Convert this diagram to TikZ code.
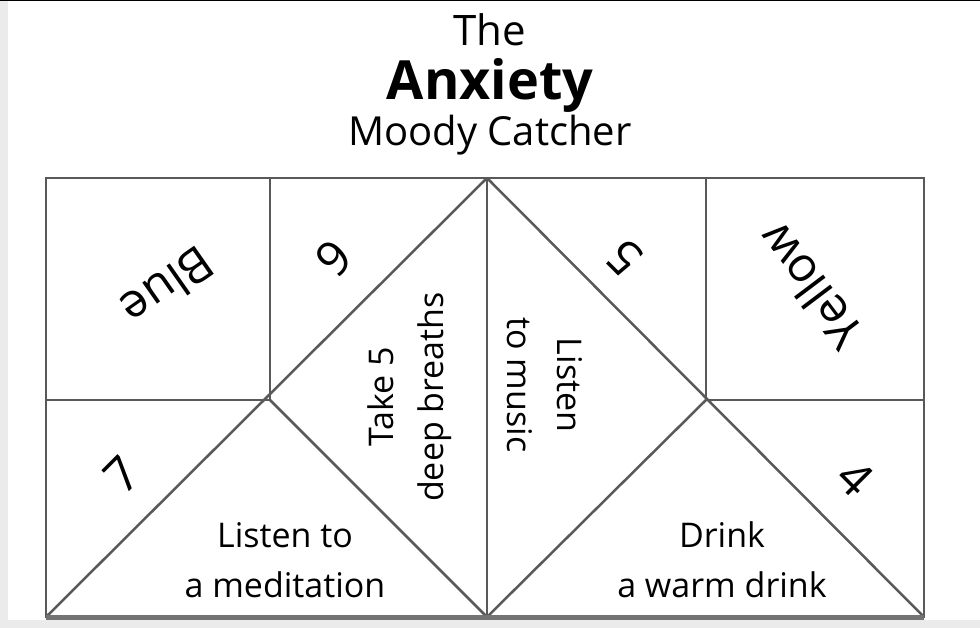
\documentclass[tikz,border=0pt]{standalone}
\usepackage{fontspec}
\setmainfont{Open Sans}
\begin{document}
\begin{tikzpicture}[x=1pt,y=-1pt,
  ln/.style={draw=black!65,line width=2.5pt},
  lbl/.style={font=\fontsize{34}{50}\selectfont,align=center},
  big/.style={font=\fontsize{48}{50}\selectfont}]
\useasboundingbox (0,0) rectangle (980,628);
\fill[black!8] (0,0) rectangle (8,628);
\fill[black!8] (0,620) rectangle (980,628);
\draw[line width=1.5pt] (0,0.75) -- (980,0.75);
\coordinate (tl) at (46,178); \coordinate (tr) at (924,178);
\coordinate (bl) at (46,617); \coordinate (br) at (924,617);
\coordinate (apex) at (487,178); \coordinate (bot) at (487,617);
\coordinate (ml) at (270,400); \coordinate (mr) at (706,400);
\draw[ln] (tl) rectangle (br);
\draw[ln] (apex) -- (bot);
\draw[ln] (270,178) -- (ml) -- (46,400);
\draw[ln] (706,178) -- (mr) -- (924,400);
\draw[ln] (apex) -- (bl); \draw[ln] (apex) -- (br);
\draw[ln] (ml) -- (bot) -- (mr);
\draw[draw=black!55,line width=5pt] (bl) -- (br);
\node (t1) at (490,30) {\fontsize{42}{44}\selectfont The};
\node (t2) at (490,85) {\fontsize{54}{56}\selectfont\bfseries Anxiety};
\node (t3) at (490,135) {\fontsize{40}{44}\selectfont Moody Catcher};
\node[big,rotate=215] (blue) at (168,287) {Blue};
\node[big,rotate=225] (n6) at (334,258) {6};
\node[big,rotate=127] (yel) at (810,287) {Yellow};
\node[big,rotate=135] (n5) at (625,258) {5};
\node[big,rotate=45] (n7) at (122,475) {7};
\node[big,rotate=-45] (n4) at (855,478) {4};
\node[lbl,rotate=90] (take) at (410,397) {Take 5\\deep breaths};
\node[lbl,rotate=-90] (mus) at (545,385) {Listen\\to music};
\node[lbl] (med) at (285,560) {Listen to\\a meditation};
\node[lbl] (drk) at (722,560) {Drink\\a warm drink};
\end{tikzpicture}
\end{document}
